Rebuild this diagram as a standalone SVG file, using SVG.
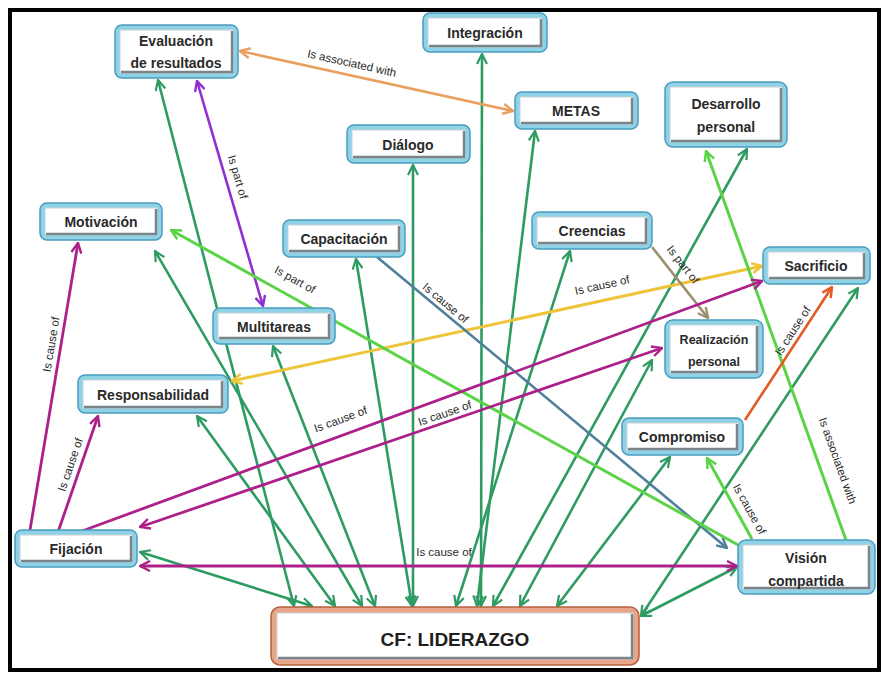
<svg xmlns="http://www.w3.org/2000/svg" width="881" height="673" viewBox="0 0 881 673">
<style>
.nb{fill:#8ed2e7;stroke:#4b9cbd;stroke-width:1.5}
.ni{fill:#fff;stroke:#c9d2d6;stroke-width:1}
.ns{fill:none;stroke:#7b8488;stroke-width:2.5}
.cb{fill:#e7a68a;stroke:#b5603c;stroke-width:1.5}
.nt{font-family:"Liberation Sans",Arial,sans-serif;font-weight:bold;font-size:14px;fill:#2a2a2a;text-anchor:middle}
.ct{font-family:"Liberation Sans",Arial,sans-serif;font-weight:bold;font-size:19px;fill:#1e1e1e;text-anchor:middle}
.el{font-family:"Liberation Sans",Arial,sans-serif;font-size:11.5px;fill:#2a2a2a;text-anchor:middle}
.c{fill:none;stroke-width:2.6}
.g{stroke:#2e9b62;marker-start:url(#mg);marker-end:url(#mg)}
.lg{stroke:#5ad446;stroke-width:3;marker-end:url(#mlg)}
.pu{stroke:#8f2fd2;marker-start:url(#mpu);marker-end:url(#mpu)}
.mg{stroke:#ad2089;stroke-width:2.8}
.or{stroke:#e9a05e;marker-start:url(#mor);marker-end:url(#mor)}
.ye{stroke:#eec53a;stroke-width:3;marker-start:url(#mye);marker-end:url(#mye)}
.sb{stroke:#4f7f9b;marker-end:url(#msb)}
.gb{stroke:#9c8e6e;marker-end:url(#mgb)}
.rd{stroke:#e35a22;marker-end:url(#mrd)}
</style>
<defs>
<marker id="mg" viewBox="0 0 12 12" refX="11" refY="6" markerWidth="12" markerHeight="12" markerUnits="userSpaceOnUse" orient="auto-start-reverse"><path d="M1,1 L11,6 L1,11" fill="none" stroke="#2e9b62" stroke-width="2.2"/></marker>
<marker id="mlg" viewBox="0 0 12 12" refX="11" refY="6" markerWidth="12" markerHeight="12" markerUnits="userSpaceOnUse" orient="auto-start-reverse"><path d="M1,1 L11,6 L1,11" fill="none" stroke="#5ad446" stroke-width="2.4"/></marker>
<marker id="mpu" viewBox="0 0 12 12" refX="11" refY="6" markerWidth="12" markerHeight="12" markerUnits="userSpaceOnUse" orient="auto-start-reverse"><path d="M1,1 L11,6 L1,11" fill="none" stroke="#8f2fd2" stroke-width="2.4"/></marker>
<marker id="mmg" viewBox="0 0 12 12" refX="11" refY="6" markerWidth="12" markerHeight="12" markerUnits="userSpaceOnUse" orient="auto-start-reverse"><path d="M1,1 L11,6 L1,11" fill="none" stroke="#ad2089" stroke-width="2.4"/></marker>
<marker id="mor" viewBox="0 0 12 12" refX="11" refY="6" markerWidth="12" markerHeight="12" markerUnits="userSpaceOnUse" orient="auto-start-reverse"><path d="M1,1 L11,6 L1,11" fill="none" stroke="#e9a05e" stroke-width="2.4"/></marker>
<marker id="mye" viewBox="0 0 12 12" refX="11" refY="6" markerWidth="12" markerHeight="12" markerUnits="userSpaceOnUse" orient="auto-start-reverse"><path d="M1,1 L11,6 L1,11" fill="none" stroke="#eec53a" stroke-width="2.4"/></marker>
<marker id="msb" viewBox="0 0 12 12" refX="11" refY="6" markerWidth="12" markerHeight="12" markerUnits="userSpaceOnUse" orient="auto-start-reverse"><path d="M1,1 L11,6 L1,11" fill="none" stroke="#4f7f9b" stroke-width="2.4"/></marker>
<marker id="mgb" viewBox="0 0 12 12" refX="11" refY="6" markerWidth="12" markerHeight="12" markerUnits="userSpaceOnUse" orient="auto-start-reverse"><path d="M1,1 L11,6 L1,11" fill="none" stroke="#9c8e6e" stroke-width="2.4"/></marker>
<marker id="mrd" viewBox="0 0 12 12" refX="11" refY="6" markerWidth="12" markerHeight="12" markerUnits="userSpaceOnUse" orient="auto-start-reverse"><path d="M1,1 L11,6 L1,11" fill="none" stroke="#e35a22" stroke-width="2.4"/></marker>
</defs>
<rect x="0" y="0" width="881" height="673" fill="#fff"/>
<rect x="10" y="10" width="869" height="660" fill="none" stroke="#000" stroke-width="4"/>
<g id="connectors">
<path class="c g" d="M158,80 L294,606"/>
<path class="c g" d="M155,251 L362,606"/>
<path class="c g" d="M197,416 L335,606"/>
<path class="c g" d="M273,346 L375,606"/>
<path class="c g" d="M356,259 L412,606"/>
<path class="c g" d="M413,165 L413,606"/>
<path class="c g" d="M482,54 L481,606"/>
<path class="c g" d="M535,131 L477,606"/>
<path class="c g" d="M570,251 L456,606"/>
<path class="c g" d="M747,149 L493,606"/>
<path class="c g" d="M652,360 L520,606"/>
<path class="c g" d="M670,457 L557,606"/>
<path class="c g" d="M140,552 L312,606"/>
<path class="c g" d="M737,567 L641,616"/>
<path class="c g" d="M858,288 L641,616"/>
<path class="c pu" d="M197,81 L263,306"/>
<path class="c or" d="M240,51 L513,111"/>
<path class="c ye" d="M232,381 L762,266"/>
<path class="c sb" d="M377,257 L727,548"/>
<path class="c lg" d="M740,546 L171,230"/>
<path class="c lg" d="M846,540 L706,151"/>
<path class="c lg" d="M752,539 L707,458"/>
<path class="c gb" d="M652,247 L708,318"/>
<path class="c rd" d="M745,420 L832,287"/>
<path class="c mg" d="M30,530 L78,243" marker-end="url(#mmg)"/>
<path class="c mg" d="M57,535 L98,416" marker-end="url(#mmg)"/>
<circle cx="57" cy="535" r="3.5" fill="#ad2089"/>
<path class="c mg" d="M82,531 L762,281" marker-end="url(#mmg)"/>
<path class="c mg" d="M140,527 L662,348" marker-start="url(#mmg)" marker-end="url(#mmg)"/>
<path class="c mg" d="M140,566 L737,566" marker-start="url(#mmg)" marker-end="url(#mmg)"/>
<text class="el" x="351" y="67" transform="rotate(12.5 351 67)">Is associated with</text>
<text class="el" x="234" y="178" transform="rotate(73.6 234 178)">Is part of</text>
<text class="el" x="293" y="283" transform="rotate(29 293 283)">Is part of</text>
<text class="el" x="443" y="306" transform="rotate(40 443 306)">Is cause of</text>
<text class="el" x="680" y="267" transform="rotate(52 680 267)">Is part of</text>
<text class="el" x="603" y="289" transform="rotate(-12.4 603 289)">Is cause of</text>
<text class="el" x="342" y="423" transform="rotate(-20 342 423)">Is cause of</text>
<text class="el" x="446" y="417" transform="rotate(-19 446 417)">Is cause of</text>
<text class="el" x="444" y="556">Is cause of</text>
<text class="el" x="55" y="345" transform="rotate(-80.5 55 345)">Is cause of</text>
<text class="el" x="74" y="466" transform="rotate(-71 74 466)">Is cause of</text>
<text class="el" x="796" y="333" transform="rotate(-57 796 333)">Is cause of</text>
<text class="el" x="746" y="511" transform="rotate(61 746 511)">Is cause of</text>
<text class="el" x="834" y="462" transform="rotate(70.3 834 462)">Is associated with</text>
</g>
<g id="evaluacion">
<rect class="nb" x="115" y="25" width="123" height="53" rx="7"/>
<rect class="ni" x="120" y="30" width="113" height="43"/>
<path class="ns" d="M232,31 V72 H121"/>
<text class="nt" x="176" y="46">Evaluación</text>
<text class="nt" x="176" y="68">de resultados</text>
</g>
<g id="integracion">
<rect class="nb" x="423" y="13" width="124" height="39" rx="7"/>
<rect class="ni" x="428" y="18" width="114" height="29"/>
<path class="ns" d="M541,19 V46 H429"/>
<text class="nt" x="485" y="38">Integración</text>
</g>
<g id="metas">
<rect class="nb" x="515" y="92" width="123" height="37" rx="7"/>
<rect class="ni" x="520" y="97" width="113" height="27"/>
<path class="ns" d="M632,98 V123 H521"/>
<text class="nt" x="576" y="116">METAS</text>
</g>
<g id="dialogo">
<rect class="nb" x="347" y="125" width="123" height="38" rx="7"/>
<rect class="ni" x="352" y="130" width="113" height="28"/>
<path class="ns" d="M464,131 V157 H353"/>
<text class="nt" x="408" y="150">Diálogo</text>
</g>
<g id="desarrollo">
<rect class="nb" x="665" y="82" width="122" height="65" rx="8"/>
<rect class="ni" x="670" y="87" width="112" height="55"/>
<path class="ns" d="M781,88 V141 H671"/>
<text class="nt" x="726" y="109">Desarrollo</text>
<text class="nt" x="726" y="132">personal</text>
</g>
<g id="motivacion">
<rect class="nb" x="40" y="203" width="122" height="37" rx="7"/>
<rect class="ni" x="45" y="208" width="112" height="27"/>
<path class="ns" d="M156,209 V234 H46"/>
<text class="nt" x="101" y="227">Motivación</text>
</g>
<g id="capacitacion">
<rect class="nb" x="283" y="220" width="122" height="37" rx="7"/>
<rect class="ni" x="288" y="225" width="112" height="27"/>
<path class="ns" d="M399,226 V251 H289"/>
<text class="nt" x="344" y="244">Capacitación</text>
</g>
<g id="creencias">
<rect class="nb" x="532" y="212" width="120" height="37" rx="7"/>
<rect class="ni" x="537" y="217" width="110" height="27"/>
<path class="ns" d="M646,218 V243 H538"/>
<text class="nt" x="592" y="236">Creencias</text>
</g>
<g id="sacrificio">
<rect class="nb" x="763" y="247" width="107" height="37" rx="7"/>
<rect class="ni" x="768" y="252" width="97" height="27"/>
<path class="ns" d="M864,253 V278 H769"/>
<text class="nt" x="816" y="271">Sacrificio</text>
</g>
<g id="multitareas">
<rect class="nb" x="213" y="308" width="122" height="36" rx="7"/>
<rect class="ni" x="218" y="313" width="112" height="26"/>
<path class="ns" d="M329,314 V338 H219"/>
<text class="nt" x="274" y="332">Multitareas</text>
</g>
<g id="realizacion">
<rect class="nb" x="665" y="320" width="98" height="58" rx="8"/>
<rect class="ni" x="670" y="325" width="88" height="48"/>
<path class="ns" d="M757,326 V372 H671"/>
<text class="nt" x="714" y="344" style="font-size:12.5px">Realización</text>
<text class="nt" x="714" y="366" style="font-size:12.5px">personal</text>
</g>
<g id="responsabilidad">
<rect class="nb" x="78" y="375" width="150" height="38" rx="7"/>
<rect class="ni" x="83" y="380" width="140" height="28"/>
<path class="ns" d="M222,381 V407 H84"/>
<text class="nt" x="153" y="400">Responsabilidad</text>
</g>
<g id="compromiso">
<rect class="nb" x="622" y="418" width="121" height="37" rx="7"/>
<rect class="ni" x="627" y="423" width="111" height="27"/>
<path class="ns" d="M737,424 V449 H628"/>
<text class="nt" x="682" y="442">Compromiso</text>
</g>
<g id="fijacion">
<rect class="nb" x="15" y="530" width="122" height="37" rx="7"/>
<rect class="ni" x="20" y="535" width="112" height="27"/>
<path class="ns" d="M131,536 V561 H21"/>
<text class="nt" x="76" y="554">Fijación</text>
</g>
<g id="vision">
<rect class="nb" x="738" y="540" width="137" height="54" rx="8"/>
<rect class="ni" x="743" y="545" width="127" height="44"/>
<path class="ns" d="M869,546 V588 H744"/>
<text class="nt" x="806" y="563">Visión</text>
<text class="nt" x="806" y="586">compartida</text>
</g>
<g id="liderazgo">
<rect class="cb" x="271" y="607" width="368" height="58" rx="9"/>
<rect class="ni" x="277" y="613" width="356" height="46"/>
<path class="ns" d="M632,614 V658 H278"/>
<text class="ct" x="455" y="646">CF: LIDERAZGO</text>
</g>
</svg>
